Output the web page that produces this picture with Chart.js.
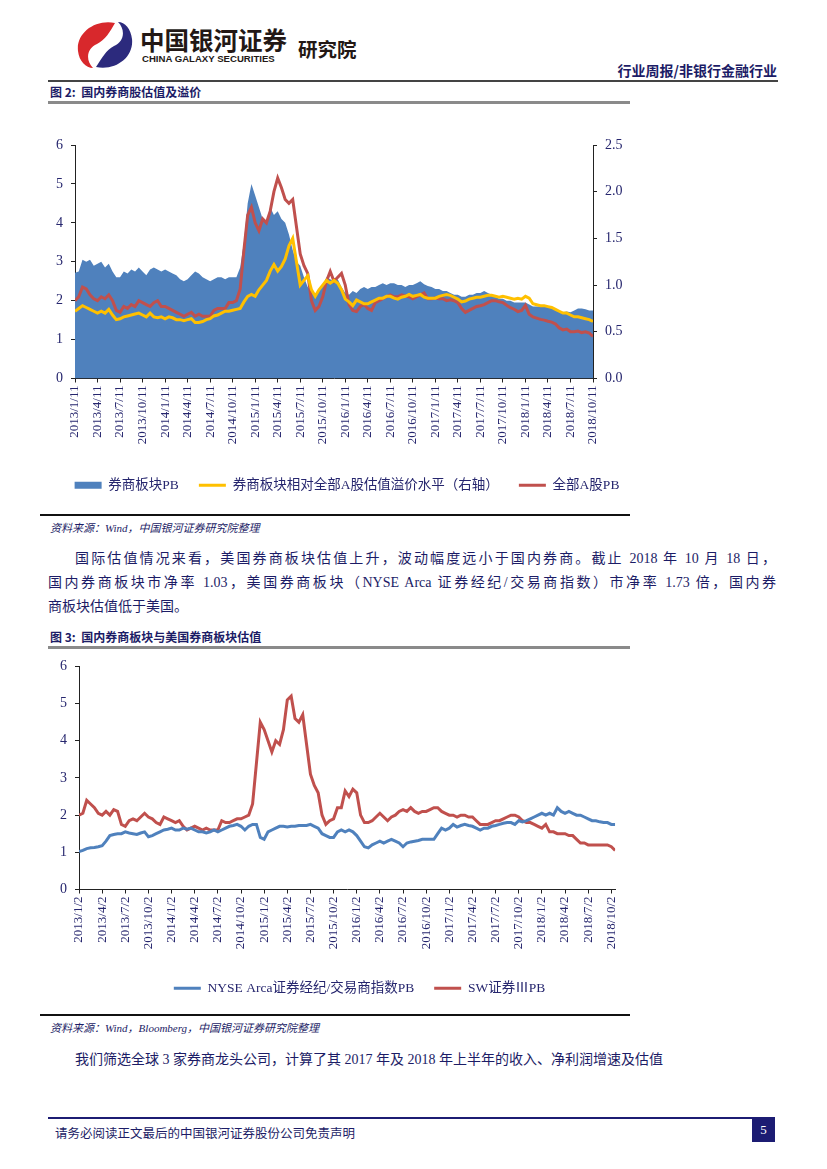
<!DOCTYPE html>
<html>
<head>
<meta charset="utf-8">
<script src="https://cdn.jsdelivr.net/npm/chart.js@4"></script>
<style>
  html, body { margin: 0; padding: 0; background: #fff; }
  body { width: 827px; height: 1169px; position: relative; overflow: hidden;
         font-family: "Liberation Serif", "Noto Sans CJK SC", serif; color: #1c1c66; }
  .abs { position: absolute; white-space: nowrap; }
  .cjk { font-family: "Noto Sans CJK SC", sans-serif; }
  .title { font-family: "Noto Sans CJK SC", sans-serif; font-weight: 700; font-size: 12px; color: #1c1c66; }
  .src { font-family: "Liberation Serif", "Noto Sans CJK SC", serif; font-style: italic; font-size: 11px; color: #1c1c66; }
  .para { position: absolute; left: 48px; width: 728px; font-family: "Liberation Serif", "Noto Sans CJK SC", serif;
          font-size: 14px; color: #1c1c66; white-space: nowrap; }
  .just { text-align: justify; text-align-last: justify; }
  .rule { position: absolute; }
</style>
</head>
<body>

<!-- header -->
<svg class="abs" style="left:75px;top:20px" width="60" height="50" viewBox="0 0 60 50">
  <path d="M40 3 C20 -1 1 13 3 31 C4 41 11 48 18 48 C10 40 12 28 22 24 C30 20 35 12 40 3 Z" fill="#d8282c"/>
  <path d="M21 47 C41 51 59 37 57 19 C56 9 50 2 43 2 C51 10 49 22 39 26 C31 30 27 38 21 47 Z" fill="#2c2a7d"/>
</svg>
<div class="abs cjk" style="left:140px;top:22px;font-size:24.5px;font-weight:700;color:#231815">中国银河证券</div>
<div class="abs" style="left:142px;top:53px;font-family:'Liberation Sans',sans-serif;font-size:9.6px;font-weight:700;color:#231815">CHINA GALAXY SECURITIES</div>
<div class="abs cjk" style="left:298px;top:34px;font-size:19.5px;font-weight:700;color:#231815">研究院</div>
<div class="abs cjk" style="right:50px;top:60px;font-size:14px;font-weight:700;color:#1c1c66">行业周报/非银行金融行业</div>
<div class="rule" style="left:48px;top:80px;width:730px;height:2px;background:#444"></div>

<!-- figure 2 -->
<div class="abs title" style="left:50px;top:83px">图 2:&nbsp; 国内券商股估值及溢价</div>
<div class="rule" style="left:48px;top:101px;width:582px;height:3px;background:#8a8a8a"></div>
<div class="abs" style="left:40px;top:125px;width:590px;height:377px"><canvas id="chart1"></canvas></div>
<div class="rule" style="left:40px;top:514px;width:590px;height:1.5px;background:#111"></div>
<div class="abs src" style="left:50px;top:519px">资料来源：Wind，中国银河证券研究院整理</div>

<div class="para just" style="top:547px;left:75px;width:701px">国际估值情况来看，美国券商板块估值上升，波动幅度远小于国内券商。截止 2018 年 10 月 18 日，</div>
<div class="para just" style="top:571px">国内券商板块市净率 1.03，美国券商板块（NYSE Arca 证券经纪/交易商指数）市净率 1.73 倍，国内券</div>
<div class="para" style="top:595px">商板块估值低于美国。</div>

<!-- figure 3 -->
<div class="abs title" style="left:50px;top:628px">图 3:&nbsp; 国内券商板块与美国券商板块估值</div>
<div class="rule" style="left:48px;top:646px;width:582px;height:3px;background:#8a8a8a"></div>
<div class="abs" style="left:40px;top:650px;width:590px;height:355px"><canvas id="chart2"></canvas></div>
<div class="rule" style="left:40px;top:1014px;width:590px;height:1.5px;background:#111"></div>
<div class="abs src" style="left:50px;top:1019px">资料来源：Wind，Bloomberg，中国银河证券研究院整理</div>

<div class="para" style="top:1048px;left:75px">我们筛选全球 3 家券商龙头公司，计算了其 2017 年及 2018 年上半年的收入、净利润增速及估值</div>

<!-- footer -->
<div class="rule" style="left:48px;top:1117px;width:727px;height:2px;background:#1c1c73"></div>
<div class="abs" style="left:55px;top:1123px;font-size:12.5px;color:#1c1c66">请务必阅读正文最后的中国银河证券股份公司免责声明</div>
<div class="abs" style="left:752px;top:1118px;width:23px;height:24px;background:#1c1c73;color:#fff;font-size:13px;text-align:center;line-height:24px">5</div>

<script>
// ---- data: six readings per quarter ----
var PER_Q = 6;

var ticks1 = ['2013/1/11','2013/4/11','2013/7/11','2013/10/11','2014/1/11','2014/4/11','2014/7/11','2014/10/11',
              '2015/1/11','2015/4/11','2015/7/11','2015/10/11','2016/1/11','2016/4/11','2016/7/11','2016/10/11',
              '2017/1/11','2017/4/11','2017/7/11','2017/10/11','2018/1/11','2018/4/11','2018/7/11','2018/10/11'];

var ticks2 = ['2013/1/2','2013/4/2','2013/7/2','2013/10/2','2014/1/2','2014/4/2','2014/7/2','2014/10/2',
              '2015/1/2','2015/4/2','2015/7/2','2015/10/2','2016/1/2','2016/4/2','2016/7/2','2016/10/2',
              '2017/1/2','2017/4/2','2017/7/2','2017/10/2','2018/1/2','2018/4/2','2018/7/2','2018/10/2'];

// 券商板块PB (left axis, area)
var sectorPB = [
  2.72, 2.75, 3.05, 3.0, 3.05, 2.9,
  2.95, 3.0, 2.85, 2.95, 2.75, 2.6,
  2.6, 2.75, 2.7, 2.8, 2.75, 2.85,
  2.75, 2.65, 2.8, 2.85, 2.8, 2.75,
  2.8, 2.75, 2.7, 2.65, 2.55, 2.5,
  2.55, 2.65, 2.75, 2.7, 2.6, 2.55,
  2.5, 2.55, 2.6, 2.6, 2.55, 2.6,
  2.6, 2.6, 2.85, 3.5, 4.5, 5.0,
  4.7, 4.4, 4.1, 4.0, 4.4, 4.2,
  4.3, 4.1, 4.0, 3.7, 3.3, 3.0,
  2.9, 2.6, 2.35, 2.25, 2.15, 2.25,
  2.4, 2.6, 2.55, 2.5, 2.55, 2.35,
  2.2, 2.15, 2.25, 2.2, 2.3, 2.35,
  2.3, 2.35, 2.35, 2.4, 2.45, 2.4,
  2.45, 2.45, 2.4, 2.4, 2.35, 2.4,
  2.4, 2.45, 2.5, 2.42, 2.38, 2.35,
  2.3, 2.3, 2.25, 2.25, 2.2, 2.15,
  2.15, 2.1, 2.1, 2.15, 2.15, 2.2,
  2.2, 2.25, 2.2, 2.15, 2.1, 2.05,
  2.05, 2.0, 2.0, 1.95, 1.95, 1.95,
  1.95, 1.9, 1.85, 1.85, 1.85, 1.85,
  1.85, 1.8, 1.8, 1.75, 1.7, 1.72,
  1.7, 1.75, 1.8, 1.8, 1.78, 1.75,
  1.75
];

// 券商板块相对全部A股估值溢价水平 (right axis)
var premium = [
  0.72, 0.75, 0.78, 0.76, 0.74, 0.72,
  0.7, 0.72, 0.7, 0.74, 0.68, 0.63,
  0.64, 0.66, 0.67, 0.68, 0.69, 0.7,
  0.68, 0.66, 0.7, 0.66, 0.65, 0.66,
  0.64, 0.66, 0.65, 0.63, 0.63, 0.62,
  0.63, 0.64, 0.6, 0.6, 0.61, 0.63,
  0.64, 0.67, 0.68, 0.7, 0.72, 0.72,
  0.73, 0.74, 0.75, 0.82, 0.88, 0.9,
  0.88, 0.95, 1.0, 1.05, 1.15, 1.22,
  1.15, 1.2, 1.28, 1.42, 1.5, 1.25,
  1.0, 1.05, 1.1, 0.95, 0.88, 0.95,
  1.0, 1.05, 1.02, 1.05, 1.02, 0.95,
  0.85, 0.82, 0.78, 0.84, 0.82, 0.8,
  0.8, 0.82, 0.84, 0.86, 0.86, 0.88,
  0.88, 0.86, 0.85, 0.87, 0.88, 0.9,
  0.88, 0.89, 0.9, 0.87, 0.86, 0.86,
  0.86, 0.88, 0.89, 0.9, 0.89, 0.87,
  0.85, 0.82, 0.83, 0.85, 0.86, 0.87,
  0.87, 0.88, 0.89, 0.89, 0.88, 0.87,
  0.88, 0.87, 0.86, 0.85, 0.86, 0.85,
  0.88, 0.86, 0.8, 0.79, 0.78, 0.78,
  0.77, 0.76, 0.74, 0.72, 0.7, 0.7,
  0.68, 0.66, 0.66, 0.65, 0.64, 0.63,
  0.61
];

// 全部A股PB (left axis)
var allAPB = [
  2.0, 2.1, 2.35, 2.3, 2.15, 2.05,
  2.0, 2.1, 2.05, 2.15, 2.0, 1.75,
  1.7, 1.85, 1.8, 1.9, 1.85, 2.0,
  1.95, 1.9, 1.85, 1.95, 2.0, 1.85,
  1.85, 1.8, 1.75, 1.7, 1.65, 1.6,
  1.65, 1.7, 1.6, 1.65, 1.6, 1.6,
  1.6, 1.75, 1.8, 1.8, 1.8, 1.95,
  1.95, 2.0, 2.3, 3.3, 4.2, 4.4,
  4.0, 3.8, 4.1, 4.0, 4.3, 4.8,
  5.15, 4.9, 4.6, 4.5, 4.6, 3.9,
  3.2, 2.9, 2.7, 2.0, 1.75, 1.85,
  2.1, 2.5, 2.75, 2.5, 2.6, 2.7,
  2.4, 1.9, 1.75, 1.72, 1.85, 1.9,
  1.8, 1.75, 1.95, 2.0, 2.05, 2.1,
  2.15, 2.1, 2.1, 2.15, 2.12, 2.1,
  2.05, 2.1, 2.15, 2.2, 2.05, 2.05,
  2.07, 2.05, 2.05, 2.0, 2.02, 2.0,
  1.95, 1.8, 1.7, 1.75, 1.8, 1.85,
  1.87, 1.9, 1.95, 2.0, 2.0, 1.97,
  1.95, 1.88, 1.82, 1.78, 1.72, 1.75,
  1.88, 1.65, 1.58, 1.55, 1.52, 1.5,
  1.47, 1.45, 1.4, 1.3, 1.25, 1.27,
  1.2, 1.2, 1.22, 1.18, 1.2, 1.17,
  1.08
];

// NYSE Arca证券经纪/交易商指数PB
var nyseArca = [
  1.02, 1.05, 1.1, 1.12, 1.13, 1.15,
  1.18, 1.3, 1.45, 1.48, 1.5, 1.5,
  1.55, 1.52, 1.5, 1.48, 1.52, 1.55,
  1.42, 1.45, 1.5, 1.55, 1.6, 1.62,
  1.65, 1.6, 1.6, 1.65, 1.62, 1.65,
  1.6, 1.55, 1.55, 1.52, 1.55, 1.6,
  1.55, 1.6, 1.65, 1.7, 1.72, 1.75,
  1.7, 1.6, 1.7, 1.75, 1.75, 1.4,
  1.35, 1.55, 1.6, 1.65, 1.7, 1.7,
  1.68, 1.7, 1.7, 1.72, 1.72, 1.72,
  1.75, 1.7, 1.65, 1.5, 1.45, 1.4,
  1.4, 1.55, 1.6, 1.55, 1.6, 1.55,
  1.45, 1.3, 1.15, 1.12, 1.2, 1.25,
  1.3, 1.25, 1.3, 1.35, 1.3, 1.25,
  1.15, 1.25, 1.28, 1.3, 1.32, 1.35,
  1.35, 1.35, 1.35, 1.5, 1.65, 1.6,
  1.65, 1.75, 1.68, 1.72, 1.75, 1.72,
  1.7, 1.65, 1.6, 1.65, 1.65, 1.7,
  1.72, 1.75, 1.78, 1.8, 1.8, 1.75,
  1.85, 1.82, 1.85, 1.9, 1.95, 2.0,
  2.05, 2.0, 2.05, 2.0, 2.2, 2.1,
  2.05, 2.1, 2.05, 2.0, 2.0, 1.95,
  1.9, 1.85, 1.85, 1.82, 1.8, 1.8,
  1.75, 1.75
];

// SW证券ⅢPB
var swSec = [
  2.0, 2.05, 2.4, 2.3, 2.2, 2.05,
  2.0, 2.1, 2.0, 2.15, 2.1, 1.75,
  1.7, 1.85, 1.9, 1.85, 1.95, 2.05,
  1.95, 1.9, 1.8, 1.75, 1.95, 1.9,
  1.85, 1.8, 1.85, 1.7, 1.6, 1.65,
  1.7, 1.65, 1.6, 1.65, 1.6, 1.6,
  1.6, 1.85, 1.8, 1.8, 1.85, 1.9,
  1.9, 1.95, 2.0, 2.3, 3.4, 4.5,
  4.3, 4.0, 3.7, 4.0, 3.9, 4.3,
  5.1, 5.2, 4.6, 4.5, 4.7, 3.9,
  3.1, 2.8, 2.6, 2.0, 1.75, 1.85,
  1.9, 2.2, 2.2, 2.65, 2.5, 2.7,
  2.6, 2.0, 1.8, 1.8, 1.85, 1.95,
  2.05, 1.95, 1.85, 1.95, 2.0, 2.1,
  2.15, 2.1, 2.2, 2.1, 2.05, 2.1,
  2.1, 2.15, 2.2, 2.2, 2.1, 2.05,
  2.0, 2.0, 1.95, 2.0, 2.0, 1.95,
  1.95, 1.85, 1.75, 1.75, 1.75, 1.8,
  1.85, 1.85, 1.9, 1.95, 2.0, 2.0,
  1.95, 1.85, 1.8, 1.8, 1.75, 1.7,
  1.65, 1.75, 1.55, 1.55, 1.5, 1.5,
  1.5, 1.45, 1.45, 1.35, 1.25, 1.25,
  1.2, 1.2, 1.2, 1.2, 1.2, 1.2,
  1.15, 1.05
];

var NAVY = '#26266e';
var FONT = "'Liberation Serif', 'Noto Sans CJK SC', serif";

function toPoints(arr) {
  return arr.map(function(v, i) { return { x: i / PER_Q, y: v }; });
}

function xAxis(labels, maxX, height) {
  return {
    type: 'linear', min: 0, max: maxX,
    border: { color: '#222', width: 1 },
    grid: { drawOnChartArea: false, tickLength: 4, color: '#222' },
    ticks: {
      stepSize: 1, autoSkip: false, includeBounds: false,
      maxRotation: 90, minRotation: 90, padding: 3,
      color: NAVY, font: { family: FONT, size: 13 },
      callback: function(v) { return labels[v]; }
    },
    afterFit: function(s) { s.height = height; }
  };
}

function yAxis(pos, max, step, width, fmt) {
  return {
    position: pos, min: 0, max: max,
    border: { color: '#222', width: 1 },
    grid: { drawOnChartArea: false, tickLength: 4, color: '#222' },
    ticks: { stepSize: step, padding: 8, color: NAVY, font: { family: FONT, size: 14 },
             callback: fmt },
    afterFit: function(s) { s.width = width; }
  };
}

var legendOpts = {
  position: 'bottom',
  labels: {
    usePointStyle: true, pointStyleWidth: 27, boxWidth: 27, boxHeight: 7,
    padding: 20, color: NAVY, font: { family: FONT, size: 13.5 },
    sort: function(a, b) { return a.datasetIndex - b.datasetIndex; }
  }
};

// nudges the legend sideways, the reference legends sit right of centre
function legendShift(dx) {
  return {
    id: 'legendShift',
    afterLayout: function(chart) {
      if (chart.legend) { chart.legend.left += dx; chart.legend.right += dx; }
    }
  };
}

new Chart(document.getElementById('chart1'), {
  type: 'line',
  data: {
    datasets: [{
      label: '券商板块PB',
      data: toPoints(sectorPB),
      yAxisID: 'y',
      fill: 'origin',
      backgroundColor: '#4f81bd',
      borderColor: '#4f81bd',
      borderWidth: 0,
      pointRadius: 0,
      pointStyle: 'rect',
      order: 3
    }, {
      label: '券商板块相对全部A股估值溢价水平（右轴）',
      data: toPoints(premium),
      yAxisID: 'y2',
      borderColor: '#ffc000',
      backgroundColor: '#ffc000',
      borderWidth: 3,
      pointRadius: 0,
      pointStyle: 'line',
      order: 1
    }, {
      label: '全部A股PB',
      data: toPoints(allAPB),
      yAxisID: 'y',
      borderColor: '#c0504d',
      backgroundColor: '#c0504d',
      borderWidth: 3,
      pointRadius: 0,
      pointStyle: 'line',
      order: 2
    }]
  },
  options: {
    responsive: true, maintainAspectRatio: false, animation: false,
    layout: { padding: { top: 20 } },
    plugins: { legend: legendOpts, tooltip: { enabled: false } },
    scales: {
      x: xAxis(ticks1, (sectorPB.length - 1) / PER_Q, 80),
      y: yAxis('left', 6, 1, 35, function(v) { return v; }),
      y2: yAxis('right', 2.5, 0.5, 37, function(v) { return v.toFixed(1); })
    }
  },
  plugins: [legendShift(12)]
});

new Chart(document.getElementById('chart2'), {
  type: 'line',
  data: {
    datasets: [{
      label: 'NYSE Arca证券经纪/交易商指数PB',
      data: toPoints(nyseArca),
      borderColor: '#4f81bd',
      backgroundColor: '#4f81bd',
      borderWidth: 3,
      pointRadius: 0,
      pointStyle: 'line'
    }, {
      label: 'SW证券ⅢPB',
      data: toPoints(swSec),
      borderColor: '#c0504d',
      backgroundColor: '#c0504d',
      borderWidth: 3,
      pointRadius: 0,
      pointStyle: 'line'
    }]
  },
  options: {
    responsive: true, maintainAspectRatio: false, animation: false,
    layout: { padding: { top: 16, right: 11 } },
    plugins: { legend: legendOpts, tooltip: { enabled: false } },
    scales: {
      x: xAxis(ticks2, (nyseArca.length - 1) / PER_Q, 72),
      y: yAxis('left', 6, 1, 39, function(v) { return v; })
    }
  },
  plugins: [legendShift(30)]
});
</script>
</body>
</html>
